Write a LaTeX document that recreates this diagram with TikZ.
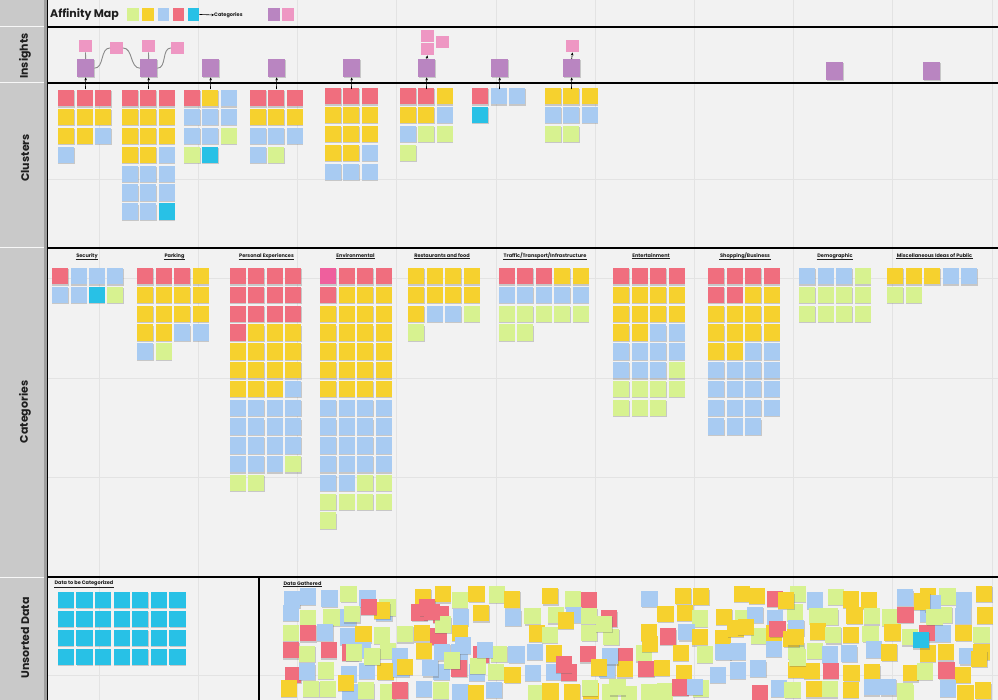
\documentclass[tikz,border=0pt]{standalone}
\usepackage{fontspec}
\setsansfont{Poppins}
\usetikzlibrary{shadows,arrows.meta}
\definecolor{bg}{HTML}{F2F2F2}
\definecolor{side}{HTML}{C9C9C9}
\definecolor{sidedk}{HTML}{9E9E9E}
\definecolor{gridc}{HTML}{E3E3E3}
\definecolor{nY}{HTML}{F6D12E}
\definecolor{nB}{HTML}{A8CBF2}
\definecolor{nG}{HTML}{D7F290}
\definecolor{nR}{HTML}{F06E7E}
\definecolor{nC}{HTML}{28C1E6}
\definecolor{nP}{HTML}{B985C1}
\definecolor{nK}{HTML}{EE97C3}
\definecolor{nM}{HTML}{EF5F9D}
\definecolor{conc}{HTML}{8A8A8A}
\definecolor{txt}{HTML}{1E1E1E}
\newcommand\notecol[4]{\foreach \cc [count=\ii from 0] in {#4}{\fill[\cc,nt] (#1,{#2+\ii*#3}) rectangle ++(16.2,16.4);}}
\begin{document}
\begin{tikzpicture}[x=1pt,y=-1pt,
  nt/.style={drop shadow={shadow xshift=0.3pt,shadow yshift=-1.2pt,fill=black!60,opacity=0.3}},
  ins/.style={anchor=north west,minimum width=17pt,minimum height=18pt,inner sep=0pt,fill=nP,nt},
  pk/.style={anchor=north west,minimum width=12.5pt,minimum height=12.5pt,inner sep=0pt,fill=nK},
  sw/.style={anchor=north west,minimum width=11.5pt,minimum height=12.5pt,inner sep=0pt},
  con/.style={conc,line width=0.9pt},
  arr/.style={black,line width=0.6pt,-{Stealth[length=3pt,width=2.6pt]}},
  rowlab/.style={rotate=90,font=\sffamily\bfseries\fontsize{11}{13}\selectfont,text=txt,inner sep=0pt},
  cathead/.style={font=\sffamily\bfseries\fontsize{5}{6}\selectfont,text=txt,inner sep=0.4pt,
     append after command={(\tikzlastnode.south west) edge[line width=0.35pt,txt] (\tikzlastnode.south east)}},
  frame/.style={black,line width=1.1pt}]
\useasboundingbox (0,0) rectangle (998,700);
% background
\fill[bg] (0,0) rectangle (998,700);
% grid
\foreach \gxv in {1,...,10}{\draw[gridc,line width=1pt] ({\gxv*99.2},0) -- ({\gxv*99.2},700);}
\foreach \gyv in {180,279,378,477,675}{\draw[gridc,line width=1pt] (48,\gyv) -- (998,\gyv);}
% sidebar
\fill[side] (0,0) rectangle (47,700);
\fill[sidedk] (44,0) rectangle (47,700);
\foreach \sy in {27,83,248,577}{\draw[white!85!side,line width=1pt] (0,\sy) -- (44,\sy);}
\draw[frame] (47.5,0) -- (47.5,700);
\foreach \sy in {27,83,248,577}{\draw[frame] (47.5,\sy) -- (998,\sy);}
\draw[frame] (259,577) -- (259,700);
% row labels
\node[rowlab] (lins) at (25,56) {Insights};
\node[rowlab] (lclu) at (25,158) {Clusters};
\node[rowlab] (lcat) at (25,412) {Categories};
\node[rowlab] (luns) at (25,638) {Unsorted Data};
% header
\node[anchor=west,font=\sffamily\bfseries\fontsize{11}{13}\selectfont,text=txt,inner sep=0pt] (title) at (50,15) {Affinity Map};
\node[sw,fill=nG] (s1) at (127,8) {};
\node[sw,fill=nY] (s2) at (142,8) {};
\node[sw,fill=nB] (s3) at (157.5,8) {};
\node[sw,fill=nR] (s4) at (172.5,8) {};
\node[sw,fill=nC] (s5) at (187.5,8) {};
\node[anchor=west,font=\sffamily\bfseries\fontsize{5}{6}\selectfont,text=txt,inner sep=0pt] (lcats) at (214,15) {Categories};
\draw[black,line width=0.6pt,-{Stealth[length=2.5pt,width=2.5pt]}] (s5.east) -- (lcats.west);
\node[sw,fill=nP] (s6) at (268,8) {};
\node[sw,fill=nK] (s7) at (282,8) {};
% ---------- insights ----------
\node[ins] (P1) at (77,59) {};
\node[ins] (P2) at (140,59) {};
\node[ins] (P3) at (202,59) {};
\node[ins] (P4) at (268,59) {};
\node[ins] (P5) at (343,59) {};
\node[ins] (P6) at (418,59) {};
\node[ins] (P7) at (491,59) {};
\node[ins] (P8) at (563,59) {};
\node[ins] (P9) at (826,62) {};
\node[ins] (P10) at (923,62) {};
\node[pk] (K1) at (79,39.5) {};
\node[pk] (K2) at (110,41.5) {};
\node[pk] (K3) at (142,39.5) {};
\node[pk] (K4) at (171,41.5) {};
\node[pk] (K5) at (421,29.5) {};
\node[pk] (K6) at (421,42.5) {};
\node[pk] (K7) at (436,35.5) {};
\node[pk] (K8) at (566,39.5) {};
\draw[con] (K1.south) -- (P1.north);
\draw[con] (K3.south) -- (P2.north);
\draw[con] (P1.east) to[out=0,in=180] (K2.west);
\draw[con] (K2.east) to[out=0,in=180] (P2.west);
\draw[con] (P2.east) to[out=0,in=180] (K4.west);
\draw[arr] (P6.north) -- (K6.south);
\draw[arr] (P8.north) -- (K8.south);
% ---------- clusters ----------
\notecol{58}{90}{18.9}{nR,nY,nY,nB}
\notecol{76.5}{90}{18.9}{nR,nY,nY}
\notecol{95}{90}{18.9}{nR,nY,nB}
\notecol{122}{90}{18.9}{nR,nY,nY,nY,nB,nB,nB}
\notecol{140}{90}{18.9}{nR,nY,nY,nY,nB,nB,nB}
\notecol{158.5}{90}{18.9}{nR,nY,nY,nB,nB,nB,nC}
\notecol{184}{90}{18.9}{nR,nB,nB,nG}
\notecol{202}{90}{18.9}{nY,nB,nB,nC}
\notecol{220.5}{90}{18.9}{nB,nB,nG}
\notecol{250}{90}{18.9}{nR,nY,nB,nB}
\notecol{268}{90}{18.9}{nR,nY,nB,nG}
\notecol{286.5}{90}{18.9}{nR,nY,nB}
\notecol{325}{88}{18.9}{nR,nY,nY,nY,nB}
\notecol{343}{88}{18.9}{nR,nY,nY,nY,nB}
\notecol{361.5}{88}{18.9}{nR,nY,nY,nB,nB}
\notecol{400}{88}{18.9}{nR,nY,nB,nG}
\notecol{418}{88}{18.9}{nR,nY,nG}
\notecol{436.5}{88}{18.9}{nY,nB,nG}
\notecol{472}{88}{18.9}{nR,nC}
\notecol{490.5}{88}{18.9}{nB}
\notecol{509}{88}{18.9}{nB}
\notecol{545}{88}{18.9}{nY,nB,nG}
\notecol{563}{88}{18.9}{nY,nB,nG}
\notecol{581.5}{88}{18.9}{nY,nB}
\foreach \nm/\xx in {1/85.5,2/148.5,3/210.5,4/276.5,5/351.5,6/426.5,7/499.5,8/571.5}{
  \coordinate (a\nm) at (\xx,89);
  \draw[arr] (a\nm) -- (P\nm.south);}
% ---------- categories ----------
\node[cathead] (h1) at (87,256) {Security};
\node[cathead] (h2) at (174.5,256) {Parking};
\node[cathead] (h3) at (266.5,256) {Personal Experiences};
\node[cathead] (h4) at (355.5,256) {Environmental};
\node[cathead] (h5) at (442,256) {Restaurants and food};
\node[cathead] (h6) at (545,256) {Traffic/Transport/Infrastructure};
\node[cathead] (h7) at (651,256) {Entertainment};
\node[cathead] (h8) at (745,256) {Shopping/Business};
\node[cathead] (h9) at (835,256) {Demographic};
\node[cathead] (h10) at (934.5,256) {Miscellaneous Ideas of Public};
% security
\notecol{52}{268}{18.8}{nR,nB}
\notecol{70.5}{268}{18.8}{nB,nB}
\notecol{88.5}{268}{18.8}{nB,nC}
\notecol{107}{268}{18.8}{nB,nG}
% parking
\notecol{137}{268}{18.8}{nR,nY,nY,nY,nB}
\notecol{155.5}{268}{18.8}{nR,nY,nY,nY,nG}
\notecol{174}{268}{18.8}{nR,nY,nY,nB}
\notecol{192.5}{268}{18.8}{nY,nY,nY,nB}
% personal experiences
\notecol{229.5}{268}{18.8}{nR,nR,nR,nR,nY,nY,nY,nB,nB,nB,nB,nG}
\notecol{248}{268}{18.8}{nR,nR,nR,nY,nY,nY,nY,nB,nB,nB,nB,nG}
\notecol{266.5}{268}{18.8}{nR,nR,nR,nY,nY,nY,nY,nB,nB,nB,nB}
\notecol{285}{268}{18.8}{nR,nR,nR,nY,nY,nY,nB,nB,nB,nB,nG}
% environmental
\notecol{320}{268}{18.8}{nM,nR,nY,nY,nY,nY,nY,nB,nB,nB,nB,nB,nG,nG}
\notecol{338.5}{268}{18.8}{nR,nY,nY,nY,nY,nY,nY,nB,nB,nB,nB,nB,nG}
\notecol{357}{268}{18.8}{nR,nY,nY,nY,nY,nY,nY,nB,nB,nB,nB,nG,nG}
\notecol{375.5}{268}{18.8}{nR,nY,nY,nY,nY,nY,nY,nB,nB,nB,nB,nG,nG}
% restaurants
\notecol{408}{268}{18.8}{nY,nY,nY,nG}
\notecol{426.5}{268}{18.8}{nY,nY,nB}
\notecol{445}{268}{18.8}{nY,nY,nB}
\notecol{463.5}{268}{18.8}{nY,nY,nG}
% traffic
\notecol{498.5}{268}{18.8}{nR,nB,nG,nG}
\notecol{517}{268}{18.8}{nR,nB,nG,nG}
\notecol{535.5}{268}{18.8}{nR,nB,nG}
\notecol{554}{268}{18.8}{nY,nB,nG}
\notecol{572.5}{268}{18.8}{nY,nB,nG}
% entertainment
\notecol{613}{268}{18.8}{nR,nY,nY,nY,nB,nB,nG,nG}
\notecol{631.5}{268}{18.8}{nR,nY,nY,nY,nB,nB,nG,nG}
\notecol{650}{268}{18.8}{nR,nY,nY,nB,nB,nB,nG,nG}
\notecol{668.5}{268}{18.8}{nR,nY,nY,nB,nB,nG,nG}
% shopping
\notecol{708}{268}{18.8}{nR,nR,nY,nY,nY,nB,nB,nB,nB}
\notecol{726.5}{268}{18.8}{nR,nR,nY,nY,nY,nB,nB,nB,nB}
\notecol{745}{268}{18.8}{nR,nY,nY,nY,nB,nB,nB,nB,nB}
\notecol{763.5}{268}{18.8}{nR,nY,nY,nY,nB,nB,nB,nB}
% demographic
\notecol{799}{268}{18.8}{nB,nG,nG}
\notecol{817.5}{268}{18.8}{nB,nG,nG}
\notecol{836}{268}{18.8}{nB,nG,nG}
\notecol{854.5}{268}{18.8}{nG,nG,nG}
% misc
\notecol{887}{268}{18.8}{nY,nG}
\notecol{905.5}{268}{18.8}{nY,nG}
\notecol{924}{268}{18.8}{nY}
\notecol{942.5}{268}{18.8}{nB}
\notecol{961}{268}{18.8}{nB}
% ---------- unsorted ----------
\node[anchor=west,font=\sffamily\bfseries\fontsize{5}{6}\selectfont,text=txt,inner sep=0.4pt,
  append after command={(\tikzlastnode.south west) edge[line width=0.35pt,txt] (\tikzlastnode.south east)}] (hdc) at (54,583.5) {Data to be Categorized};
\node[anchor=west,font=\sffamily\bfseries\fontsize{5}{6}\selectfont,text=txt,inner sep=0.4pt,
  append after command={(\tikzlastnode.south west) edge[line width=0.35pt,txt] (\tikzlastnode.south east)}] (hdg) at (283,584) {Data Gathered};
\foreach \c in {0,...,6}{\notecol{57.7+\c*18.6}{591.7}{19}{nC,nC,nC,nC}}
\pgfmathsetseed{4242}
\pgfmathdeclarerandomlist{gc}{{nY}{nY}{nY}{nY}{nB}{nB}{nB}{nB}{nG}{nG}{nG}{nR}{nR}}
\foreach \r in {0,...,5}{
  \foreach \c in {0,...,37}{
    \pgfmathsetmacro\gx{283+\c*18.7+rand*3.5}
    \pgfmathsetmacro\gy{589+\r*18.6+rand*3.5}
    \pgfmathtruncatemacro\gs{rnd<0.13 ? 1 : 0}
    \pgfmathrandomitem{\gcol}{gc}
    \ifnum\gs=0 \fill[\gcol,nt] (\gx,\gy) rectangle ++(16.2,16.4);\fi
  }}
\foreach \k in {1,...,40}{
  \pgfmathsetmacro\gx{300+rnd*680}
  \pgfmathsetmacro\gy{592+rnd*92}
  \pgfmathrandomitem{\gcol}{gc}
  \fill[\gcol,nt] (\gx,\gy) rectangle ++(16.2,16.4);}
\fill[nC,nt] (913,632) rectangle ++(16.2,16.4);
\end{tikzpicture}
\end{document}
